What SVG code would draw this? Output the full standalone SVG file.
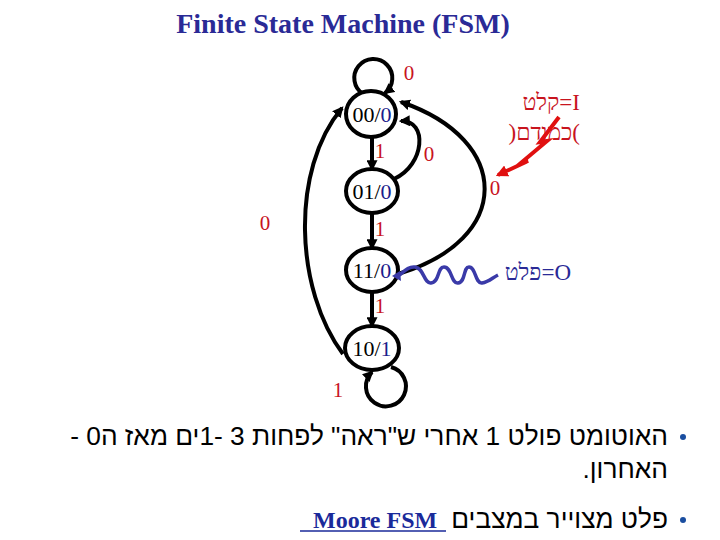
<svg xmlns="http://www.w3.org/2000/svg" width="720" height="540" viewBox="0 0 720 540">
<defs>
<style>
.node{fill:#fff;stroke:#000;stroke-width:4}
.edge{fill:none;stroke:#000;stroke-width:4}
.nl{font-family:"Liberation Serif",serif;font-size:22px;fill:#000}
.out{fill:#1c1c8c}
.lab{font-family:"Liberation Serif",serif;font-size:21px;fill:#c8141e}
.hl{font-family:"Liberation Serif",serif;font-size:23px;fill:#c8141e}
.heb{font-family:"Liberation Sans","DejaVu Sans",sans-serif;font-size:26.3px;fill:#000}
</style>
<marker id="ah" viewBox="0 0 10 10" refX="8" refY="5" markerWidth="11" markerHeight="11" markerUnits="userSpaceOnUse" orient="auto">
<path d="M0,0 L10,5 L0,10 z" fill="#000"/>
</marker>
<marker id="rah" viewBox="0 0 10 10" refX="8" refY="5" markerWidth="12" markerHeight="12" markerUnits="userSpaceOnUse" orient="auto">
<path d="M0,0 L10,5 L0,10 z" fill="#e01010"/>
</marker>
</defs>
<rect width="720" height="540" fill="#fff"/>
<text x="343" y="33" text-anchor="middle" font-family="Liberation Serif,serif" font-weight="bold" font-size="28" fill="#2a2a96">Finite State Machine (FSM)</text>

<g id="connectors">
<path class="edge" d="M363,94 A19,19 0 1 1 385,93" marker-end="url(#ah)"/>
<path class="edge" d="M372,137 L372,169" marker-end="url(#ah)"/>
<path class="edge" d="M372,213 L372,248" marker-end="url(#ah)"/>
<path class="edge" d="M372,292 L372,326" marker-end="url(#ah)"/>
<path class="edge" d="M391,367 A20,20 0 1 1 372,372" marker-end="url(#ah)"/>
<path class="edge" d="M343,354 C295,290 290,170 342,108" marker-end="url(#ah)"/>
<path class="edge" d="M394,179 C425,165 428,120 401,121" marker-end="url(#ah)"/>
<path class="edge" d="M398,274 C513,240 513,140 401,102" marker-end="url(#ah)"/>
</g>

<g id="n00"><ellipse class="node" cx="371" cy="114" rx="25" ry="23"/><text class="nl" x="372" y="122" text-anchor="middle">00/<tspan class="out">0</tspan></text></g>
<g id="n01"><ellipse class="node" cx="372" cy="191" rx="26" ry="22"/><text class="nl" x="372" y="199" text-anchor="middle">01/<tspan class="out">0</tspan></text></g>
<g id="n11"><ellipse class="node" cx="372" cy="270" rx="26" ry="22"/><text class="nl" x="372" y="278" text-anchor="middle">11/<tspan class="out">0</tspan></text></g>
<g id="n10"><ellipse class="node" cx="372" cy="348" rx="27" ry="22"/><text class="nl" x="372" y="356" text-anchor="middle">10/<tspan class="out">1</tspan></text></g>

<g id="labels">
<text class="lab" x="409" y="80" text-anchor="middle">0</text>
<text class="lab" x="380" y="158" text-anchor="middle">1</text>
<text class="lab" x="429" y="161" text-anchor="middle">0</text>
<text class="lab" x="495" y="195" text-anchor="middle">0</text>
<text class="lab" x="265" y="230" text-anchor="middle">0</text>
<text class="lab" x="380" y="236" text-anchor="middle">1</text>
<text class="lab" x="380" y="313" text-anchor="middle">1</text>
<text class="lab" x="338" y="397" text-anchor="middle">1</text>
</g>

<g id="input">
<text class="hl" x="580" y="110" direction="rtl" text-anchor="start">I=קלט</text>
<text class="hl" x="580" y="140" direction="rtl" text-anchor="start">)כמודם(</text>
<polyline points="559,117 540,142 547,141 522,162 528,161 498,175" fill="none" stroke="#e01010" stroke-width="4" stroke-linejoin="miter" marker-end="url(#rah)"/>
</g>

<g id="output">
<path d="M396,277 C402,275 406,266 415,267 C424,268 424,284 431,283 C440,282 437,267 444,267 C452,267 451,284 458,283 C466,282 463,267 469,267 C476,267 475,284 482,283 C489,282 492,278 498,275" fill="none" stroke="#3a3aa8" stroke-width="3.5"/>
<path d="M392,276 L400,271 L401,281 z" fill="#3a3aa8"/>
<text x="571" y="280" direction="rtl" text-anchor="start" font-family="Liberation Serif,serif" font-size="23" fill="#2a2a96">O=פלט</text>
</g>

<g id="bullets">
<circle cx="683" cy="437" r="3" fill="#1a4ea0"/>
<text class="heb" x="668" y="445" direction="rtl" text-anchor="start">האוטומט פולט 1 אחרי ש"ראה" לפחות 3 -1ים מאז ה0 -</text>
<text class="heb" x="668" y="478" direction="rtl" text-anchor="start">האחרון.</text>
<circle cx="683" cy="520" r="3" fill="#1a4ea0"/>
<text class="heb" x="668" y="528" direction="rtl" text-anchor="start">פלט מצוייר במצבים</text>
<text x="313" y="528" font-family="Liberation Serif,serif" font-weight="bold" font-size="24" fill="#1a2a9a">Moore FSM</text>
<line x1="300" y1="531" x2="446" y2="531" stroke="#1a2a9a" stroke-width="1.5"/>
</g>
</svg>
